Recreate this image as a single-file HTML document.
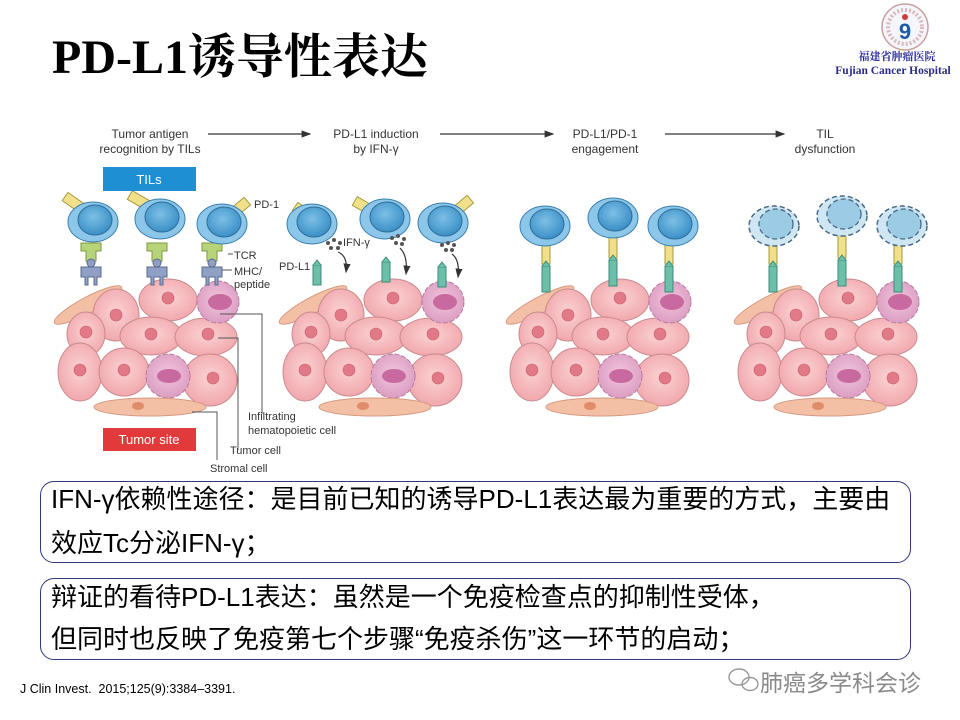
<!DOCTYPE html>
<html><head><meta charset="utf-8">
<style>
html,body{margin:0;padding:0;background:#fff;}
body{width:960px;height:720px;position:relative;overflow:hidden;font-family:"Liberation Sans","Noto Sans CJK SC",sans-serif;}
.title{position:absolute;left:52px;top:28px;font-family:"Liberation Serif","Noto Serif CJK SC",serif;font-weight:bold;font-size:48px;color:#000;line-height:60px;white-space:nowrap;}
.box{position:absolute;left:40px;width:871px;border:1.5px solid #2e3a7a;border-radius:14px;box-sizing:border-box;font-family:"Liberation Sans","Noto Sans CJK SC",sans-serif;font-size:26px;color:#000;}
.box div{position:absolute;left:10px;white-space:nowrap;line-height:32px;}
.cite{position:absolute;left:20px;top:682px;font-size:12.5px;color:#000;}
.wm{position:absolute;left:760px;top:664px;font-size:23px;color:#8a8a8a;white-space:nowrap;}
</style></head><body>
<div class="title">PD-L1诱导性表达</div>

<svg width="960" height="720" style="position:absolute;left:0;top:0" xmlns="http://www.w3.org/2000/svg">
<defs>
<radialGradient id="pk" cx="50%" cy="45%" r="60%"><stop offset="0" stop-color="#fbd3d4"/><stop offset="1" stop-color="#f0a4aa"/></radialGradient>
<radialGradient id="pu" cx="50%" cy="45%" r="60%"><stop offset="0" stop-color="#f3c6dd"/><stop offset="1" stop-color="#d99ac0"/></radialGradient>
<radialGradient id="bl" cx="45%" cy="40%" r="60%"><stop offset="0" stop-color="#7cc0e6"/><stop offset="1" stop-color="#3b8fc6"/></radialGradient>
<g id="cl">
 <ellipse cx="30" cy="35" rx="38" ry="8" transform="rotate(-28 30 35)" fill="#f3c0a6" stroke="#d59a82"/>
 <ellipse cx="58" cy="45" rx="23" ry="26" fill="url(#pk)" stroke="#c98a8e"/>
 <ellipse cx="110" cy="30" rx="29" ry="21" fill="url(#pk)" stroke="#c98a8e"/>
 <ellipse cx="28" cy="64" rx="19" ry="22" fill="url(#pk)" stroke="#c98a8e"/>
 <ellipse cx="93" cy="66" rx="31" ry="19" fill="url(#pk)" stroke="#c98a8e"/>
 <ellipse cx="148" cy="67" rx="31" ry="19" fill="url(#pk)" stroke="#c98a8e"/>
 <ellipse cx="22" cy="102" rx="22" ry="29" fill="url(#pk)" stroke="#c98a8e"/>
 <ellipse cx="66" cy="102" rx="25" ry="24" fill="url(#pk)" stroke="#c98a8e"/>
 <ellipse cx="152" cy="110" rx="27" ry="26" fill="url(#pk)" stroke="#c98a8e"/>
 <circle cx="160" cy="32" r="21" fill="url(#pu)" stroke="#b77aa0" stroke-dasharray="5 2"/>
 <ellipse cx="162" cy="32" rx="12" ry="8" fill="#c86a9f"/>
 <circle cx="110" cy="106" r="22" fill="url(#pu)" stroke="#b77aa0" stroke-dasharray="5 2"/>
 <ellipse cx="111" cy="106" rx="12" ry="7" fill="#c86a9f"/>
 <ellipse cx="92" cy="137" rx="56" ry="9" fill="#f3c0a6" stroke="#d59a82"/>
 <ellipse cx="80" cy="136" rx="6" ry="4" fill="#e08c6a"/>
 <g fill="#e17a86" stroke="#c96270" stroke-width="0.6">
  <circle cx="58" cy="45" r="6"/><circle cx="110" cy="28" r="6"/><circle cx="28" cy="62" r="6"/>
  <circle cx="93" cy="64" r="6"/><circle cx="150" cy="64" r="6"/><circle cx="22" cy="100" r="6"/>
  <circle cx="66" cy="100" r="6"/><circle cx="155" cy="108" r="6"/>
 </g>
</g>
<g id="tc"><ellipse cx="0" cy="0" rx="25" ry="20" fill="#8cc6e8" stroke="#3a7fb0"/><ellipse cx="2" cy="-2" rx="17" ry="15" fill="url(#bl)" stroke="#2d6e9c"/></g>
<g id="td"><ellipse cx="0" cy="0" rx="25" ry="20" fill="#cfe6f3" stroke="#4a6a85" stroke-dasharray="5 3" stroke-width="1.5"/><ellipse cx="2" cy="-2" rx="17" ry="15" fill="#9ccbe6" stroke="#4a6a85" stroke-dasharray="5 3" stroke-width="1.3"/></g>
<g id="pd"><rect x="-4" y="0" width="8" height="24" fill="#f0e08a" stroke="#a89a40"/><rect x="-4" y="26" width="8" height="26" fill="#6cc0aa" stroke="#3d8a78"/><path d="M-4 26 L0 21 L4 26" fill="#6cc0aa" stroke="#3d8a78"/></g>
<g id="pl"><rect x="-4" y="0" width="8" height="20" fill="#6cc0aa" stroke="#3d8a78"/><path d="M-4 0 L0 -5 L4 0" fill="#6cc0aa" stroke="#3d8a78"/></g>
<g id="arm"><rect x="-6" y="-5" width="26" height="10" fill="#f0e08a" stroke="#a89a40"/></g>
<g id="tcr"><path d="M-10 0 h20 v8 h-5 v10 h-10 v-10 h-5z" fill="#b7d47a" stroke="#7a9a40"/><circle cx="0" cy="20" r="4" fill="#8fa0c4" stroke="#5a6a90"/><path d="M-10 24 h20 v10 h-4 v8 h-3 v-8 h-6 v8 h-3 v-8 h-4z" fill="#8fa0c4" stroke="#5a6a90"/></g>
<marker id="ah" markerWidth="8" markerHeight="8" refX="7" refY="4" orient="auto"><path d="M0 1 L8 4 L0 7z" fill="#333"/></marker>
</defs>

<use href="#cl" x="58" y="270"/>
<use href="#cl" x="283" y="270"/>
<use href="#cl" x="510" y="270"/>
<use href="#cl" x="738" y="270"/>

<g transform="translate(70,200) rotate(35)"><use href="#arm"/></g>
<g transform="translate(135,198) rotate(30)"><use href="#arm"/></g>
<g transform="translate(232,214) rotate(-40)"><use href="#arm"/></g>
<use href="#tcr" x="91" y="243"/><use href="#tcr" x="157" y="243"/><use href="#tcr" x="212" y="243"/>
<use href="#tc" x="93" y="222"/><use href="#tc" x="160" y="219"/><use href="#tc" x="222" y="224"/>

<g transform="translate(300,210) rotate(35)"><use href="#arm"/></g>
<g transform="translate(360,204) rotate(30)"><use href="#arm"/></g>
<g transform="translate(455,212) rotate(-40)"><use href="#arm"/></g>
<use href="#tc" x="312" y="224"/><use href="#tc" x="385" y="219"/><use href="#tc" x="443" y="223"/>
<use href="#pl" x="317" y="265"/><use href="#pl" x="386" y="262"/><use href="#pl" x="442" y="267"/>
<g fill="#555"><circle cx="328" cy="243" r="2"/><circle cx="334" cy="240" r="2"/><circle cx="340" cy="243" r="2"/><circle cx="331" cy="248" r="2"/><circle cx="338" cy="248" r="2"/>
<circle cx="392" cy="238" r="2"/><circle cx="398" cy="236" r="2"/><circle cx="404" cy="239" r="2"/><circle cx="396" cy="243" r="2"/><circle cx="402" cy="244" r="2"/>
<circle cx="442" cy="245" r="2"/><circle cx="448" cy="243" r="2"/><circle cx="454" cy="245" r="2"/><circle cx="446" cy="250" r="2"/><circle cx="452" cy="250" r="2"/></g>
<path d="M338 252 Q348 256 346 272" stroke="#333" fill="none" stroke-width="1.2" marker-end="url(#ah)"/>
<path d="M400 248 Q408 256 406 274" stroke="#333" fill="none" stroke-width="1.2" marker-end="url(#ah)"/>
<path d="M452 254 Q460 260 458 277" stroke="#333" fill="none" stroke-width="1.2" marker-end="url(#ah)"/>

<use href="#pd" x="546" y="240"/><use href="#pd" x="613" y="234"/><use href="#pd" x="669" y="240"/>
<use href="#tc" x="545" y="226"/><use href="#tc" x="613" y="218"/><use href="#tc" x="673" y="226"/>
<use href="#pd" x="773" y="240"/><use href="#pd" x="842" y="234"/><use href="#pd" x="898" y="240"/>
<use href="#td" x="774" y="226"/><use href="#td" x="842" y="216"/><use href="#td" x="902" y="226"/>

<g font-family="Liberation Sans, sans-serif" font-size="12" fill="#333" text-anchor="middle">
<text x="150" y="138">Tumor antigen</text><text x="150" y="153">recognition by TILs</text>
<text x="376" y="138">PD-L1 induction</text><text x="376" y="153">by IFN-γ</text>
<text x="605" y="138">PD-L1/PD-1</text><text x="605" y="153">engagement</text>
<text x="825" y="138">TIL</text><text x="825" y="153">dysfunction</text>
</g>
<g stroke="#333" stroke-width="1.2" marker-end="url(#ah)">
<line x1="208" y1="134" x2="310" y2="134"/><line x1="440" y1="134" x2="553" y2="134"/><line x1="665" y1="134" x2="784" y2="134"/>
</g>
<rect x="103" y="167" width="93" height="24" fill="#1d8fd2"/>
<text x="149" y="184" text-anchor="middle" font-size="13" fill="#fff" font-family="Liberation Sans, sans-serif">TILs</text>
<rect x="103" y="428" width="93" height="23" fill="#e23a3a"/>
<text x="149" y="444" text-anchor="middle" font-size="13" fill="#fff" font-family="Liberation Sans, sans-serif">Tumor site</text>

<g font-family="Liberation Sans, sans-serif" font-size="11" fill="#333">
<text x="254" y="208">PD-1</text>
<text x="234" y="259">TCR</text>
<text x="234" y="275">MHC/</text><text x="234" y="288">peptide</text>
<text x="279" y="270">PD-L1</text>
<text x="343" y="246">IFN-γ</text>
<text x="248" y="420">Infiltrating</text><text x="248" y="434">hematopoietic cell</text>
<text x="230" y="454">Tumor cell</text>
<text x="210" y="472">Stromal cell</text>
</g>
<g stroke="#555" stroke-width="1" fill="none">
<path d="M228 254 h5"/><path d="M222 270 h10"/>
<path d="M220 314 h42 v100"/><path d="M218 338 h20 v112"/><path d="M192 412 h25 v48"/>
</g>

<circle cx="905" cy="27" r="23" fill="#f4f6fb" stroke="#c9a0a0" stroke-width="1.5"/>
<circle cx="905" cy="27" r="17" fill="none" stroke="#d9b9b9" stroke-width="4" stroke-dasharray="2 2"/>
<circle cx="905" cy="17" r="3" fill="#d23a3a"/>
<text x="905" y="39" text-anchor="middle" font-size="22" font-weight="bold" fill="#1d5aa8" font-family="Liberation Sans, sans-serif">9</text>
<text x="897" y="60" text-anchor="middle" font-size="11" font-weight="bold" fill="#2a2a9a" font-family="Liberation Serif, Noto Serif CJK SC, serif">福建省肿瘤医院</text>
<text x="893" y="74" text-anchor="middle" font-size="11.5" font-weight="bold" fill="#2a2a8a" font-family="Liberation Serif, serif">Fujian Cancer Hospital</text>
<g stroke="#999" fill="none" stroke-width="1.4"><ellipse cx="739" cy="677" rx="10" ry="8"/><ellipse cx="750" cy="684" rx="8" ry="6.5"/></g>
</svg>

<div class="box" style="top:481px;height:82px;"><div style="top:1px;">IFN-γ依赖性途径：是目前已知的诱导PD-L1表达最为重要的方式，主要由</div><div style="top:45px;">效应Tc分泌IFN-γ；</div></div>
<div class="box" style="top:578px;height:82px;"><div style="top:2px;">辩证的看待PD-L1表达：虽然是一个免疫检查点的抑制性受体，</div><div style="top:44px;">但同时也反映了免疫第七个步骤“免疫杀伤”这一环节的启动；</div></div>
<div class="cite">J Clin Invest.&nbsp; 2015;125(9):3384–3391.</div>
<div class="wm">肺癌多学科会诊</div>
</body></html>
